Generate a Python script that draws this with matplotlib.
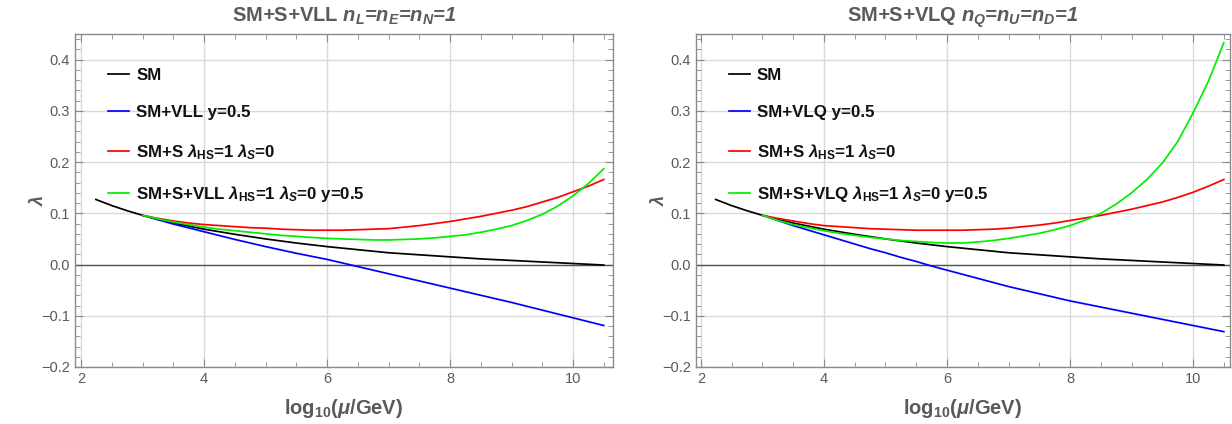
import matplotlib
matplotlib.use("Agg")
import matplotlib.pyplot as plt
from matplotlib.ticker import MultipleLocator, FuncFormatter

# ---------------- data ----------------
x_sm = [2.24, 2.5, 2.75, 3, 3.25, 3.5, 3.75, 4, 4.5, 5, 5.5, 6, 6.5, 7, 7.5,
        8, 8.5, 9, 9.5, 10, 10.5]
sm = [0.127, 0.115, 0.105, 0.096, 0.088, 0.081, 0.075, 0.069, 0.059, 0.050,
      0.042, 0.035, 0.029, 0.023, 0.019, 0.015, 0.011, 0.008, 0.005, 0.002, -0.001]

x_half = [3, 3.5, 4, 4.5, 5, 5.5, 6, 6.5, 7, 7.5, 8, 8.5, 9, 9.5, 10, 10.5]
x_quarter = [3, 3.25, 3.5, 3.75, 4, 4.25, 4.5, 4.75, 5, 5.25, 5.5, 5.75, 6,
             6.25, 6.5, 6.75, 7, 7.25, 7.5, 7.75, 8, 8.25, 8.5, 8.75, 9,
             9.25, 9.5, 9.75, 10, 10.25, 10.5]

# left panel: vector-like leptons
vll_y = [0.096, 0.079, 0.064, 0.049, 0.035, 0.022, 0.010, -0.004, -0.018,
         -0.032, -0.046, -0.060, -0.074, -0.089, -0.104, -0.119]
vll_s = [0.096, 0.090, 0.085, 0.081, 0.078, 0.076, 0.074, 0.072, 0.071,
         0.069, 0.068, 0.067, 0.067, 0.067, 0.068, 0.069, 0.070, 0.073,
         0.076, 0.080, 0.084, 0.089, 0.094, 0.100, 0.106, 0.113, 0.122,
         0.131, 0.142, 0.153, 0.166]
vll_sy = [0.096, 0.089, 0.083, 0.078, 0.073, 0.069, 0.066, 0.063, 0.060,
          0.057, 0.055, 0.053, 0.051, 0.050, 0.049, 0.048, 0.048, 0.049,
          0.050, 0.052, 0.055, 0.058, 0.063, 0.069, 0.076, 0.086, 0.098,
          0.114, 0.134, 0.158, 0.187]

# right panel: vector-like quarks
vlq_y = [0.096, 0.086, 0.076, 0.067, 0.058, 0.049, 0.040, 0.031, 0.023,
         0.014, 0.006, -0.003, -0.011, -0.019, -0.027, -0.035, -0.043,
         -0.050, -0.057, -0.064, -0.071, -0.077, -0.083, -0.089, -0.095,
         -0.101, -0.107, -0.113, -0.119, -0.125, -0.131]
vlq_s = [0.096, 0.090, 0.085, 0.080, 0.076, 0.074, 0.072, 0.070, 0.069,
         0.068, 0.067, 0.067, 0.067, 0.067, 0.068, 0.069, 0.071, 0.074,
         0.077, 0.081, 0.086, 0.091, 0.096, 0.102, 0.108, 0.115, 0.122,
         0.131, 0.141, 0.153, 0.166]
vlq_sy = [0.096, 0.086, 0.078, 0.072, 0.066, 0.061, 0.057, 0.053, 0.050,
          0.047, 0.045, 0.043, 0.042, 0.042, 0.044, 0.047, 0.051, 0.056,
          0.061, 0.068, 0.076, 0.087, 0.100, 0.118, 0.140, 0.166, 0.198,
          0.240, 0.296, 0.358, 0.433]

titles = [r"$\mathrm{SM}$+$\mathrm{S}$+$\mathrm{VLL}$ $n_L$=$n_E$=$n_N$=1",
          r"$\mathrm{SM}$+$\mathrm{S}$+$\mathrm{VLQ}$ $n_Q$=$n_U$=$n_D$=1"]
labels_vll = ["SM", "SM+VLL y=0.5", r"SM+S $\lambda_{\mathrm{HS}}$=1 $\lambda_S$=0",
              r"SM+S+VLL $\lambda_{\mathrm{HS}}$=1 $\lambda_S$=0 y=0.5"]
labels_vlq = ["SM", "SM+VLQ y=0.5", r"SM+S $\lambda_{\mathrm{HS}}$=1 $\lambda_S$=0",
              r"SM+S+VLQ $\lambda_{\mathrm{HS}}$=1 $\lambda_S$=0 y=0.5"]
xlabel = r"log$_{\mathbf{10}}$($\mu$/GeV)"
ylabel = r"$\lambda$"
colors = ["#000000", "#0000ff", "#ff0000", "#00ee00"]

# ---------------- style ----------------
plt.rcParams["font.family"] = ["Liberation Sans", "DejaVu Sans"]
plt.rcParams["mathtext.fontset"] = "custom"
plt.rcParams["mathtext.rm"] = "Liberation Sans:bold"
plt.rcParams["mathtext.bf"] = "Liberation Sans:bold"
plt.rcParams["mathtext.it"] = "Liberation Sans:italic:bold"

GRAY_TXT = "#5a5a5a"
FRAME = "#8a8a8a"

fig = plt.figure(figsize=(12.32, 4.24), dpi=100)
axL = fig.add_axes([75 / 1232, 57 / 424, 538 / 1232, 333 / 424])
axR = fig.add_axes([696 / 1232, 57 / 424, 534 / 1232, 333 / 424])

panels = [
    (axL, titles[0], labels_vll,
     [(x_half, vll_y), (x_quarter, vll_s), (x_quarter, vll_sy)], (1.90, 10.65)),
    (axR, titles[1], labels_vlq,
     [(x_quarter, vlq_y), (x_quarter, vlq_s), (x_quarter, vlq_sy)], (1.92, 10.60)),
]

minus_fmt = FuncFormatter(lambda v, p: ("%.1f" % v).replace("-", "\u2212"))

for ax, title, labels, series, xl in panels:
    ax.axhline(0, color="#555555", lw=1.0, zorder=2)
    ax.plot(x_sm, sm, color=colors[0], lw=1.25, label=labels[0], zorder=3)
    for (xs, ys), c, lab in zip(series, colors[1:], labels[1:]):
        ax.plot(xs, ys, color=c, lw=1.25, label=lab, zorder=3)

    ax.set_xlim(*xl)
    ax.set_ylim(-0.2, 0.45)
    ax.xaxis.set_major_locator(MultipleLocator(2))
    ax.xaxis.set_minor_locator(MultipleLocator(0.5))
    ax.yaxis.set_major_locator(MultipleLocator(0.1))
    ax.yaxis.set_minor_locator(MultipleLocator(0.02))
    ax.yaxis.set_major_formatter(minus_fmt)
    ax.grid(True, which="major", color="#d9d9d9", lw=1.0)
    ax.tick_params(which="both", direction="in", top=True, right=True,
                   color=FRAME, labelcolor=GRAY_TXT, labelsize=10.5)
    ax.tick_params(which="major", length=6, width=0.8)
    ax.tick_params(which="minor", length=3.5, width=0.6)
    for sp in ax.spines.values():
        sp.set_color(FRAME)
        sp.set_linewidth(1.0)

    ax.set_title(title, fontsize=14.5, fontweight="bold", fontstyle="italic",
                 color=GRAY_TXT, pad=9)
    ax.set_xlabel(xlabel, fontsize=14.5, fontweight="bold", color=GRAY_TXT, labelpad=8)
    ax.set_ylabel(ylabel, fontsize=13, color=GRAY_TXT, labelpad=-4)

    leg = ax.legend(loc="upper left", bbox_to_anchor=(0.061, 0.898),
                    frameon=False, borderpad=0, borderaxespad=0,
                    handlelength=1.25, handletextpad=0.42, labelspacing=1.3,
                    prop={"family": "Liberation Sans", "weight": "bold", "size": 12.2})
    for t in leg.get_texts():
        t.set_color("#111111")

fig.savefig("out.png", dpi=100)
